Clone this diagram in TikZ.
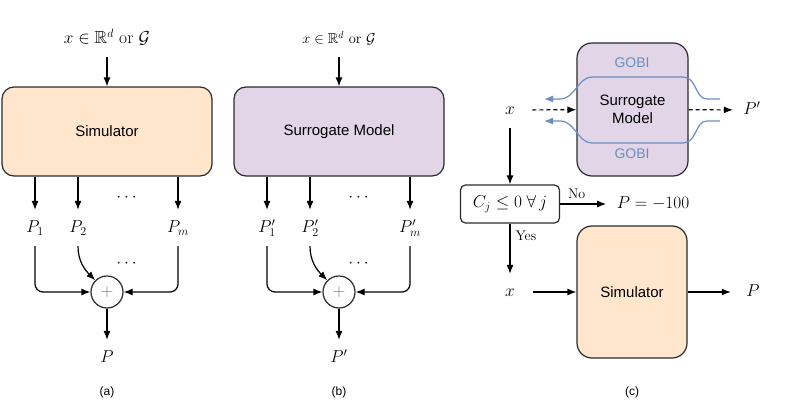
\documentclass[tikz,border=0pt]{standalone}
\usepackage{amsmath,amssymb}
\usepackage{fontspec}
\newfontfamily\arialfont{Liberation Sans}
\usetikzlibrary{arrows.meta,calc,positioning}
\definecolor{Peach}{HTML}{FFE6CC}
\definecolor{Lilac}{HTML}{E1D5E7}
\definecolor{Gobi}{HTML}{6C8EBF}
\definecolor{Edge}{HTML}{2B2B2B}

\begin{document}
\begin{tikzpicture}[x=1pt,y=-1pt,>={Latex[length=9pt,width=7pt]},line width=1.2pt,
  block/.style={draw=Edge,rounded corners=12pt,font=\fontsize{15}{18}\selectfont\arialfont,align=center},
  lbl/.style={font=\fontsize{17.5}{20}\selectfont,text height=12pt,text depth=3pt,inner sep=10pt},
  sumnode/.style={circle,draw=Edge,minimum size=32pt,inner sep=0pt,font=\fontsize{19}{19}\selectfont,text=black!55},
  condbox/.style={draw=Edge,rounded corners=5pt,minimum width=99pt,minimum height=38pt,font=\fontsize{17.5}{20}\selectfont},
  gobitext/.style={font=\fontsize{14}{16}\selectfont\arialfont,text=Gobi},
  captext/.style={font=\fontsize{12}{14}\selectfont\arialfont},
  yesno/.style={font=\fontsize{14}{16}\selectfont,inner sep=5pt}]
  \useasboundingbox (0,0) rectangle (789,412);
  % (a)
  \node[lbl] (ina) at (107,39) {$x\in\mathbb{R}^d$ or $\mathcal{G}$};
  \node[block,fill=Peach,minimum width=210pt,minimum height=89pt] (sima) at (107,131.5) {Simulator};
  \node[lbl] (pa1) at (35,228) {$P_1$};
  \node[lbl] (pa2) at (78,228) {$P_2$};
  \node[lbl] (pam) at (178,228) {$P_m$};
  \node[lbl] (dotsa1) at (128,197) {$\cdots$};
  \node[lbl] (dotsa2) at (128,263) {$\cdots$};
  \node[sumnode] (suma) at (107,292) {$+$};
  \node[lbl] (outa) at (107,358) {$P$};
  \node[captext] (capa) at (107,392) {(a)};
  \draw[->] (ina) -- (sima);
  \draw[->] (sima.south -| pa1) -- (pa1);\draw[->] (sima.south -| pa2) -- (pa2);\draw[->] (sima.south -| pam) -- (pam);
  \draw[->,rounded corners=8pt] (pa1) |- (suma);
  \draw[->] (pa2) to[out=-90,in=135] (suma);
  \draw[->,rounded corners=8pt] (pam) |- (suma);
  \draw[->] (suma) -- (outa);
  % (b)
  \node[lbl,font=\fontsize{14.5}{17}\selectfont] (inb) at (339,39) {$x\in\mathbb{R}^d$ or $\mathcal{G}$};
  \node[block,fill=Lilac,minimum width=210pt,minimum height=89pt] (surb) at (339,131.5) {Surrogate Model};
  \node[lbl] (pb1) at (267,228) {$P'_1$};
  \node[lbl] (pb2) at (310,228) {$P'_2$};
  \node[lbl] (pbm) at (410,228) {$P'_m$};
  \node[lbl] (dotsb1) at (360,197) {$\cdots$};
  \node[lbl] (dotsb2) at (360,263) {$\cdots$};
  \node[sumnode] (sumb) at (339,292) {$+$};
  \node[lbl] (outb) at (339,358) {$P'$};
  \node[captext] (capb) at (339,392) {(b)};
  \draw[->] (inb) -- (surb);
  \draw[->] (surb.south -| pb1) -- (pb1);\draw[->] (surb.south -| pb2) -- (pb2);\draw[->] (surb.south -| pbm) -- (pbm);
  \draw[->,rounded corners=8pt] (pb1) |- (sumb);
  \draw[->] (pb2) to[out=-90,in=135] (sumb);
  \draw[->,rounded corners=8pt] (pbm) |- (sumb);
  \draw[->] (sumb) -- (outb);
  % (c)
  \node[block,fill=Lilac,minimum width=111pt,minimum height=133pt,rounded corners=15pt] (surc) at (632.5,109.5) {Surrogate\\Model};
  \node[gobitext] (gobiup) at (632,63) {GOBI};
  \node[gobitext] (gobidown) at (632,154) {GOBI};
  \node[lbl] (xc1) at (510,110) {$x$};
  \node[lbl] (ppc) at (752,110) {$P'$};
  \node[condbox] (cons) at (510,204) {$C_j\le 0\;\forall\,j$};
  \node[lbl] (pfail) at (653,204) {$P=-100$};
  \node[lbl] (xc2) at (510,292) {$x$};
  \node[block,fill=Peach,minimum width=110pt,minimum height=132pt,rounded corners=15pt] (simc) at (632,292) {Simulator};
  \node[lbl] (outc) at (753,292) {$P$};
  \node[captext] (capc) at (632,392) {(c)};
  \draw[->,dashed,dash pattern=on 4pt off 3pt,shorten <=7pt] (xc1) -- (surc);
  \draw[->,dashed,dash pattern=on 4pt off 3pt] (surc) -- (ppc);
  \draw[Gobi,->] (720,99) -- (707,99) .. controls (695,99) and (697,77) .. (683,77) -- (592,77) .. controls (578,77) and (575,99) .. (560,99) -- (544,99);
  \draw[Gobi,->] (720,121) -- (707,121) .. controls (695,121) and (697,143) .. (683,143) -- (592,143) .. controls (578,143) and (575,121) .. (560,121) -- (544,121);
  \draw[->] (xc1) -- (cons);
  \draw[->] (cons) -- node[yesno,above,pos=.36] {No} (pfail);
  \draw[->] (cons) -- node[yesno,right,pos=.25] {Yes} (xc2);
  \draw[->,shorten <=8pt] (xc2) -- (simc);
  \draw[->,shorten >=5pt] (simc) -- (outc);
\end{tikzpicture}
\end{document}
